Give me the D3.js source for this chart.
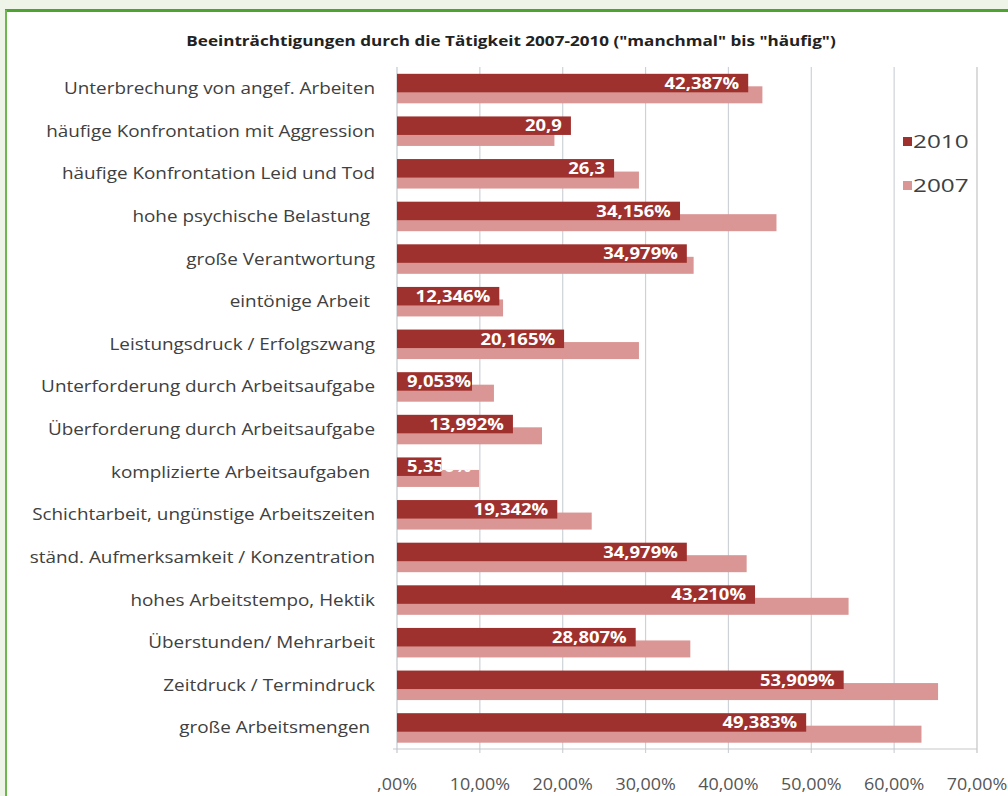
<!DOCTYPE html>
<html>
<head>
<meta charset="utf-8" />
<title>Beeinträchtigungen durch die Tätigkeit</title>
<script src="https://cdnjs.cloudflare.com/ajax/libs/d3/7.8.5/d3.min.js"></script>
<style>
  body { margin: 0; background: #eef5e8; }
  svg { display: block; }
  text { font-family: "Open Sans", Lato, sans-serif; }
</style>
</head>
<body>
<svg id="chart" width="1008" height="796"></svg>
<script>
// categories, top to bottom
const categories = [
  "Unterbrechung von angef. Arbeiten",
  "häufige Konfrontation mit Aggression",
  "häufige Konfrontation Leid und Tod",
  "hohe psychische Belastung ",
  "große Verantwortung",
  "eintönige Arbeit ",
  "Leistungsdruck / Erfolgszwang",
  "Unterforderung durch Arbeitsaufgabe",
  "Überforderung durch Arbeitsaufgabe",
  "komplizierte Arbeitsaufgaben ",
  "Schichtarbeit, ungünstige Arbeitszeiten",
  "ständ. Aufmerksamkeit / Konzentration",
  "hohes Arbeitstempo, Hektik",
  "Überstunden/ Mehrarbeit",
  "Zeitdruck / Termindruck",
  "große Arbeitsmengen "
]
const values2010 = [42.387, 20.99, 26.2, 34.156, 34.979, 12.346, 20.165, 9.053, 13.992, 5.35, 19.342, 34.979, 43.21, 28.807, 53.909, 49.383]
const values2007 = [44.1, 19.0, 29.2, 45.8, 35.8, 12.8, 29.2, 11.7, 17.5, 9.9, 23.5, 42.2, 54.5, 35.4, 65.3, 63.3]
const labels2010 = ["42,387%", "20,9", "26,3", "34,156%", "34,979%", "12,346%", "20,165%", "9,053%", "13,992%", "5,350%", "19,342%", "34,979%", "43,210%", "28,807%", "53,909%", "49,383%"]
const seriesNames = ["2010", "2007"]
const tickValues = [0, 10, 20, 30, 40, 50, 60, 70]
const tickLabels = [",00%", "10,00%", "20,00%", "30,00%", "40,00%", "50,00%", "60,00%", "70,00%"]
const title = 'Beeinträchtigungen durch die Tätigkeit 2007-2010 ("manchmal" bis "häufig")'

const darkRed = '#9e302d'
const lightRed = '#da9694'

let svg = d3.select('#chart')

// the screenshot is stretched sideways, so text gets a horizontal scale
function stretch(sel, x, y, sx) {
  sel.attr('transform', (d, i) => 'translate(' + x(d, i) + ',' + y(d, i) + ') scale(' + sx + ',1)')
}

// white panel with green frame line
svg.append('rect').attr('x', 6).attr('y', 11).attr('width', 1002).attr('height', 785).attr('fill', '#fff')
svg.append('line').attr('x1', 5).attr('x2', 1008).attr('y1', 10.5).attr('y2', 10.5)
  .attr('stroke', '#4da32f').attr('stroke-width', 3)
svg.append('line').attr('x1', 6).attr('x2', 6).attr('y1', 10).attr('y2', 796)
  .attr('stroke', '#6cb84f').attr('stroke-width', 2)

let xScale = d3.scaleLinear().domain([0, 70]).range([397, 977])
let yScale = d3.scaleBand().domain(categories).range([67, 749])
let step = yScale.step()

// gridlines
let grid = svg.append('g')
grid.selectAll('line').data(tickValues.slice(1)).enter().append('line')
  .attr('x1', d => xScale(d)).attr('x2', d => xScale(d))
  .attr('y1', 67).attr('y2', 753)
  .attr('stroke', d => d === 70 ? '#c4c4c4' : '#cdd2d8').attr('stroke-width', 1.2)

// axes lines
svg.append('line').attr('x1', xScale(0)).attr('x2', xScale(0)).attr('y1', 67).attr('y2', 753)
  .attr('stroke', '#c4c8cc').attr('stroke-width', 1.2)
svg.append('line').attr('x1', xScale(0) - 4).attr('x2', xScale(70)).attr('y1', 749).attr('y2', 749)
  .attr('stroke', '#c4c8cc').attr('stroke-width', 1.2)

// bars
let center = (d, i) => yScale(categories[i]) + step / 2
let bars = svg.append('g')
bars.selectAll('rect.y2007').data(values2007).enter().append('rect')
  .attr('class', 'y2007')
  .attr('x', xScale(0))
  .attr('y', (d, i) => center(d, i) - 2)
  .attr('width', d => xScale(d) - xScale(0))
  .attr('height', 17)
  .attr('fill', lightRed)
bars.selectAll('rect.y2010').data(values2010).enter().append('rect')
  .attr('class', 'y2010')
  .attr('x', xScale(0))
  .attr('y', (d, i) => center(d, i) - 14.5)
  .attr('width', d => xScale(d) - xScale(0))
  .attr('height', 18.5)
  .attr('fill', darkRed)

// labels only show where bars are
let clip = svg.append('clipPath').attr('id', 'barclip')
values2007.forEach((d, i) => {
  clip.append('rect').attr('x', xScale(0)).attr('y', center(d, i) - 2)
    .attr('width', xScale(d) - xScale(0)).attr('height', 17)
})
values2010.forEach((d, i) => {
  clip.append('rect').attr('x', xScale(0)).attr('y', center(d, i) - 14.5)
    .attr('width', xScale(d) - xScale(0)).attr('height', 18.5)
})

let labelSx = 1.12
let labelG = svg.append('g').attr('clip-path', 'url(#barclip)')
labelG.selectAll('text').data(values2010).enter().append('text')
  .attr('fill', '#fff')
  .attr('font-size', 16.5)
  .attr('font-weight', 'bold')
  .attr('text-anchor', 'end')
  .text((d, i) => labels2010[i])
  .each(function(d, i) {
    let w = this.getComputedTextLength() * labelSx
    let xEnd = Math.max(xScale(d) - 9, xScale(0) + 10 + w)
    stretch(d3.select(this), () => xEnd, () => center(d, i) + 0.5, labelSx)
  })

// category labels
let catText = svg.append('g').selectAll('text').data(categories).enter().append('text')
  .attr('dy', '0.35em')
  .attr('text-anchor', 'end')
  .attr('font-size', 16.5)
  .attr('fill', '#404040')
  .style('white-space', 'pre')
  .text(d => d)
stretch(catText, () => 375, (d, i) => center(d, i), 1.145)

// x axis labels
let tickText = svg.append('g').selectAll('text').data(tickValues).enter().append('text')
  .attr('dy', '0.35em')
  .attr('text-anchor', 'middle')
  .attr('font-size', 16)
  .attr('fill', '#555')
  .text((d, i) => tickLabels[i])
stretch(tickText, d => xScale(d), () => 784, 1.12)

// title
let titleText = svg.append('text').attr('dy', '0.35em')
  .attr('text-anchor', 'middle').attr('font-size', 14.5).attr('font-weight', 'bold')
  .attr('fill', '#222').text(title)
stretch(titleText, () => 511, () => 41, 1.18)

// legend
let legend = svg.append('g')
let legendColors = [darkRed, lightRed]
legend.selectAll('rect').data(seriesNames).enter().append('rect')
  .attr('x', 903).attr('y', (d, i) => 137 + i * 44)
  .attr('width', 9).attr('height', 9)
  .attr('fill', (d, i) => legendColors[i])
let legText = legend.selectAll('text').data(seriesNames).enter().append('text')
  .attr('dy', '0.35em')
  .attr('font-size', 18).attr('fill', '#404040')
  .text(d => d)
stretch(legText, () => 913, (d, i) => 142 + i * 44, 1.35)
</script>
</body>
</html>
